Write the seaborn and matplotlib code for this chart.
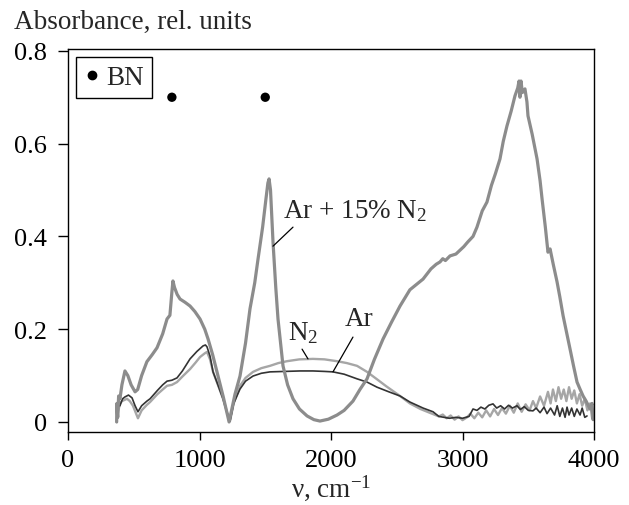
import matplotlib
matplotlib.use("Agg")
import matplotlib.pyplot as plt
import seaborn as sns
from matplotlib.lines import Line2D

# --- data ---
ar15_x = [370, 372, 378, 385, 395, 410, 433, 455, 480, 510, 530, 560, 600, 640, 677, 720, 753, 775, 790, 798,
          810, 830, 852, 890, 928, 965, 1004, 1040, 1065, 1100, 1133, 1180, 1225, 1240, 1270, 1308, 1350, 1384,
          1420, 1445, 1480, 1505, 1520, 1529, 1540, 1559, 1580, 1597, 1635, 1670, 1711, 1760, 1818, 1870, 1916,
          1980, 2046, 2100, 2167, 2220, 2274, 2330, 2396, 2460, 2525, 2600, 2700, 2760, 2800, 2829, 2850, 2870,
          2905, 2950, 2980, 3010, 3040, 3080, 3110, 3150, 3186, 3220, 3250, 3285, 3310, 3338, 3370, 3399, 3420,
          3430, 3437, 3445, 3455, 3475, 3490, 3498, 3530, 3567, 3590, 3605, 3630, 3650, 3666, 3690, 3719, 3740,
          3765, 3790, 3818, 3845, 3871, 3895, 3917, 3940, 3970, 3985, 3993, 4000]
ar15_y = [0.0, 0.04, 0.01, 0.056, 0.05, 0.08, 0.11, 0.10, 0.08, 0.065, 0.07, 0.10, 0.13, 0.145, 0.160, 0.19, 0.222,
          0.23, 0.28, 0.304, 0.29, 0.275, 0.265, 0.258, 0.25, 0.238, 0.222, 0.200, 0.179, 0.145, 0.108, 0.055, 0.0,
          0.02, 0.06, 0.099, 0.17, 0.244, 0.30, 0.351, 0.42, 0.48, 0.515, 0.524, 0.50, 0.388, 0.29, 0.222, 0.121,
          0.08, 0.05, 0.028, 0.013, 0.005, 0.002, 0.006, 0.015, 0.025, 0.045, 0.07, 0.093, 0.135, 0.179, 0.215,
          0.25, 0.285, 0.308, 0.33, 0.34, 0.345, 0.352, 0.348, 0.358, 0.362, 0.37, 0.378, 0.388, 0.40, 0.42, 0.455,
          0.474, 0.51, 0.535, 0.567, 0.605, 0.638, 0.67, 0.703, 0.72, 0.735, 0.70, 0.735, 0.71, 0.718, 0.69, 0.66,
          0.62, 0.567, 0.52, 0.481, 0.42, 0.366, 0.373, 0.34, 0.302, 0.27, 0.229, 0.195, 0.157, 0.12, 0.086, 0.07,
          0.056, 0.045, 0.028, 0.04, 0.005, 0.02]

n2_x = [370, 375, 380, 395, 410, 449, 470, 494, 515, 532, 560, 600, 624, 680, 720, 753, 790, 829, 870, 928, 970,
        1004, 1040, 1057, 1080, 1103, 1140, 1179, 1210, 1232, 1260, 1308, 1350, 1407, 1470, 1536, 1600, 1665, 1760,
        1863, 1950, 2046, 2120, 2198, 2274, 2350, 2420, 2525, 2600, 2680, 2776, 2820, 2850, 2880, 2910, 2940, 2970,
        3000, 3034, 3060, 3090, 3120, 3150, 3180, 3210, 3240, 3270, 3300, 3330, 3360, 3390, 3420, 3450, 3480, 3510,
        3536, 3560, 3590, 3620, 3650, 3670, 3688, 3710, 3730, 3750, 3770, 3790, 3810, 3830, 3850, 3870, 3890, 3910,
        3930, 3950, 3970, 3985, 4000]
n2_y = [0.0, 0.03, 0.02, 0.04, 0.045, 0.05, 0.045, 0.035, 0.02, 0.008, 0.025, 0.037, 0.043, 0.060, 0.070, 0.078,
        0.080, 0.086, 0.098, 0.114, 0.128, 0.140, 0.148, 0.151, 0.135, 0.108, 0.080, 0.05, 0.02, 0.002, 0.04, 0.078,
        0.095, 0.108, 0.116, 0.121, 0.127, 0.131, 0.135, 0.136, 0.135, 0.131, 0.127, 0.121, 0.108, 0.092, 0.077,
        0.056, 0.040, 0.028, 0.017, 0.012, 0.016, 0.008, 0.014, 0.005, 0.012, 0.004, 0.01, 0.018, 0.008, 0.02, 0.01,
        0.025, 0.012, 0.028, 0.015, 0.03, 0.018, 0.035, 0.02, 0.04, 0.022, 0.038, 0.025, 0.045, 0.03, 0.055, 0.035,
        0.065, 0.04, 0.07, 0.045, 0.075, 0.05, 0.07, 0.045, 0.075, 0.05, 0.068, 0.04, 0.06, 0.035, 0.05, 0.025,
        0.04, 0.01, 0.02]

ar_x = [372, 378, 395, 415, 433, 460, 487, 510, 532, 560, 600, 624, 680, 720, 753, 790, 829, 870, 928, 980, 1027,
        1045, 1057, 1080, 1103, 1140, 1179, 1210, 1232, 1260, 1308, 1350, 1407, 1470, 1536, 1650, 1764, 1863, 1950,
        2015, 2100, 2198, 2274, 2350, 2440, 2525, 2600, 2700, 2776, 2820, 2860, 2900, 2950, 3000, 3050, 3080, 3110,
        3140, 3170, 3200, 3232, 3260, 3290, 3320, 3350, 3380, 3414, 3440, 3470, 3500, 3536, 3560, 3590, 3620, 3643,
        3670, 3700, 3720, 3740, 3760, 3780, 3795, 3810, 3830, 3850, 3870, 3894, 3910, 3930, 3947]
ar_y = [0.0, 0.035, 0.035, 0.05, 0.054, 0.058, 0.052, 0.035, 0.022, 0.035, 0.045, 0.050, 0.068, 0.080, 0.088, 0.090,
        0.095, 0.110, 0.136, 0.152, 0.164, 0.166, 0.162, 0.142, 0.108, 0.080, 0.05, 0.02, 0.002, 0.04, 0.071, 0.088,
        0.099, 0.105, 0.108, 0.109, 0.110, 0.110, 0.109, 0.108, 0.103, 0.093, 0.086, 0.075, 0.065, 0.056, 0.043,
        0.030, 0.022, 0.012, 0.01, 0.008, 0.01, 0.008, 0.012, 0.028, 0.025, 0.032, 0.028, 0.036, 0.039, 0.03, 0.035,
        0.028, 0.036, 0.03, 0.035, 0.027, 0.033, 0.025, 0.024, 0.03, 0.02, 0.032, 0.018, 0.03, 0.015, 0.035, 0.012,
        0.03, 0.01, 0.032, 0.015, 0.03, 0.012, 0.028, 0.015, 0.03, 0.01, 0.013]

bn_x = [790, 1500]
bn_y = [0.70, 0.70]

yticks = [0, 0.2, 0.4, 0.6, 0.8]
ytick_labels = ["0", "0.2", "0.4", "0.6", "0.8"]
xticks = [0, 1000, 2000, 3000, 4000]


def main():
    sns.set_style("ticks")
    plt.rcParams["font.family"] = ["Liberation Serif", "DejaVu Serif"]
    plt.rcParams["mathtext.fontset"] = "custom"
    plt.rcParams["mathtext.rm"] = "Liberation Serif"
    plt.rcParams["mathtext.it"] = "Liberation Serif:italic"

    fig = plt.figure(figsize=(6.29, 5.06), dpi=100)
    ax = fig.add_axes([68 / 629, 73 / 506, 526 / 629, 383 / 506])

    sns.lineplot(x=n2_x, y=n2_y, ax=ax, color="#a6a6a6", lw=1.7, sort=False)
    sns.lineplot(x=ar_x, y=ar_y, ax=ax, color="#333333", lw=1.2, sort=False)
    sns.lineplot(x=ar15_x, y=ar15_y, ax=ax, color="#8c8c8c", lw=2.3, sort=False)
    sns.scatterplot(x=bn_x, y=bn_y, ax=ax, color="black", s=45, edgecolor="none")

    ax.set_xlim(0, 4000)
    ax.set_ylim(-0.0216, 0.804)
    ax.set_xticks(xticks)
    ax.set_xticklabels([str(t) for t in xticks])
    ax.set_yticks(yticks)
    ax.set_yticklabels(ytick_labels)
    ax.tick_params(axis="y", direction="out", length=7, width=1, pad=8, labelsize=19, colors="black")
    ax.tick_params(axis="x", direction="out", length=6, width=1, pad=6, labelsize=19, colors="black")
    for sp in ax.spines.values():
        sp.set_linewidth(1.0)
        sp.set_color("black")
    ax.set_xlabel("")
    ax.set_ylabel("")

    # curve labels with leader lines
    ax.text(1635, 0.442, r"Ar + 15% N$_2$", fontsize=19.5, va="baseline", ha="left")
    ax.plot([1711, 1559], [0.420, 0.379], color="black", lw=0.9)
    ax.text(1673, 0.179, r"N$_2$", fontsize=19.5, va="baseline", ha="left")
    ax.plot([1780, 1825], [0.157, 0.136], color="black", lw=0.9)
    ax.text(2107, 0.209, "Ar", fontsize=19.5, va="baseline", ha="left")
    ax.plot([2167, 2015], [0.183, 0.108], color="black", lw=0.9)

    handle = Line2D([], [], marker="o", color="black", linestyle="none", markersize=6)
    leg = ax.legend([handle], ["BN"], loc="upper left", fontsize=19.5, frameon=True, fancybox=False,
                    edgecolor="black", handlelength=0.6, handletextpad=0.2, borderpad=0.3,
                    borderaxespad=0.3, framealpha=1)
    leg.get_frame().set_linewidth(1.0)

    fig.text(14 / 629, 1 - 29 / 506, "Absorbance, rel. units", fontsize=19.5, va="baseline", ha="left")
    fig.text(331 / 629, 1 - 497 / 506, r"ν, cm$^{-1}$", fontsize=19.5, va="baseline", ha="center")

    fig.savefig("out.png", dpi=100)
    plt.close(fig)


if __name__ == "__main__":
    main()
